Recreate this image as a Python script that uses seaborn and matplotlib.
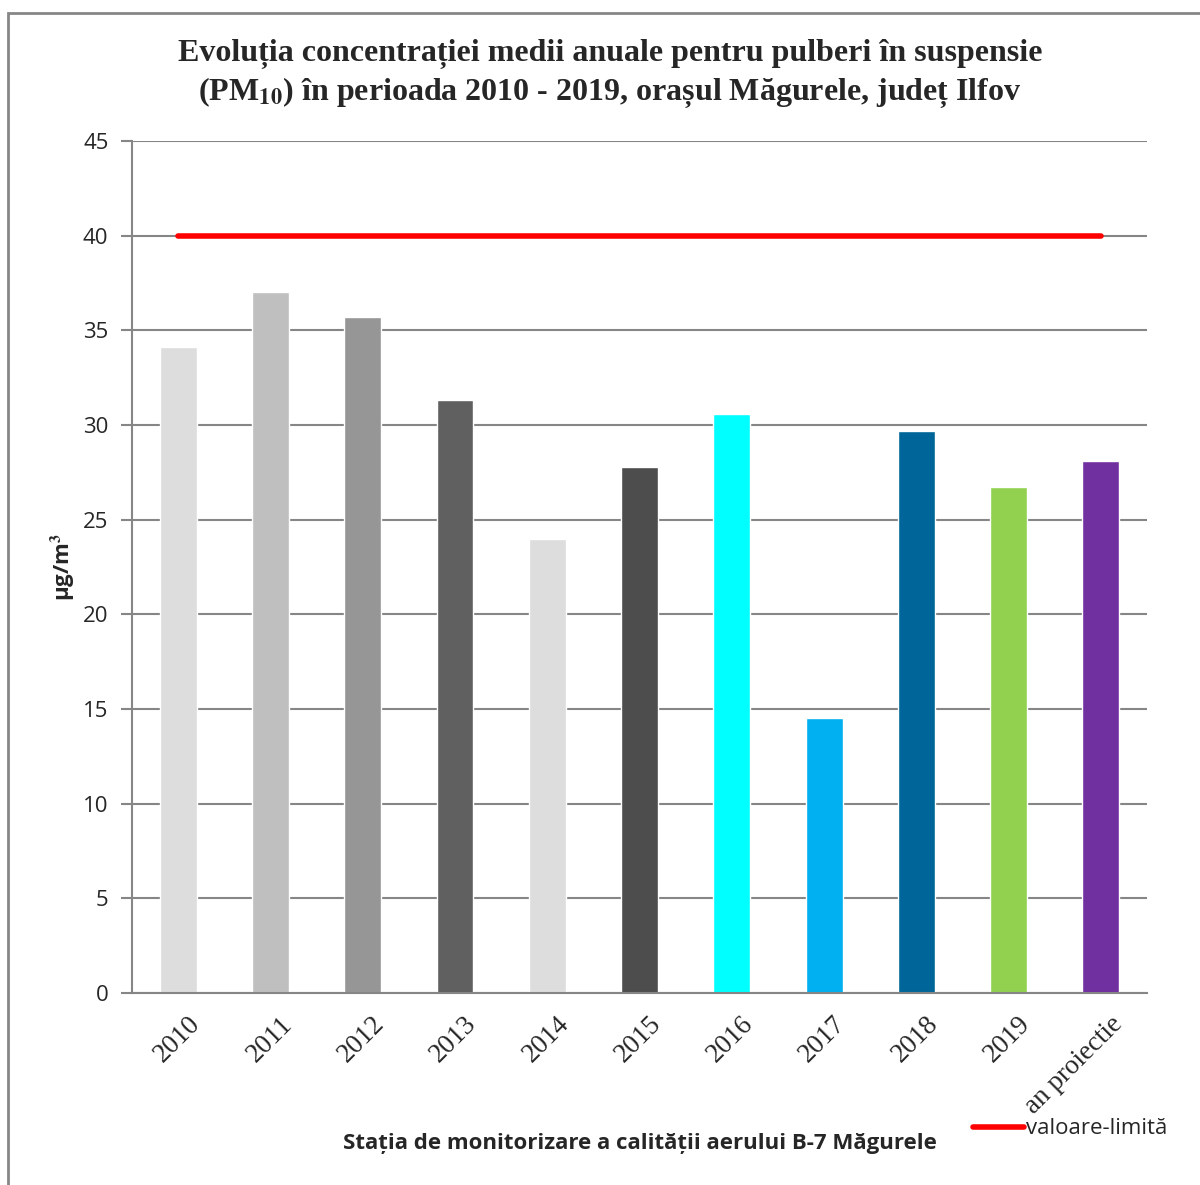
import matplotlib
matplotlib.use("Agg")
import matplotlib.pyplot as plt
import matplotlib.transforms as mtransforms
import seaborn as sns
import pandas as pd
from matplotlib.patches import Rectangle
from matplotlib.lines import Line2D

# data
categories = ['2010', '2011', '2012', '2013', '2014', '2015', '2016',
              '2017', '2018', '2019', 'an proiectie']
pm10_values = [34.1, 37.0, 35.7, 31.3, 24.0, 27.8, 30.6, 14.5, 29.7, 26.7, 28.1]
limit_values = [40] * len(categories)
bar_colors = ['#DDDDDD', '#BFBFBF', '#969696', '#606060', '#DDDDDD', '#4D4D4D',
              '#00FFFF', '#00B0F0', '#006699', '#92D050', '#7030A0']
y_ticks = [0, 5, 10, 15, 20, 25, 30, 35, 40, 45]

sns.set_style("white")
plt.rcParams['mathtext.fontset'] = 'stix'

df = pd.DataFrame({'an': categories, 'pm10': pm10_values, 'limita': limit_values})

W, H = 1200, 1185
fig = plt.figure(figsize=(W / 100, H / 100), dpi=100)
ax = fig.add_axes([132 / W, 1 - 993 / H, (1147 - 132) / W, (993 - 141) / H])

sns.barplot(data=df, x='an', y='pm10', hue='an', palette=bar_colors,
            legend=False, width=0.4, saturation=1, ax=ax)
ax.plot(df['an'], df['limita'], color='#FF0000', linewidth=4, solid_capstyle='round')

ax.set_ylim(0, 45)
ax.set_xlim(-0.5, len(categories) - 0.5)
ax.set_yticks(y_ticks)
ax.set_yticklabels([str(t) for t in y_ticks], fontsize=16, family='Open Sans')
ax.tick_params(axis='y', length=8, color='#868686', width=1.5, pad=9, left=True)
ax.tick_params(axis='x', length=0, pad=4)
ax.set_xticks(range(len(categories)))
ax.set_xticklabels(categories, rotation=45, ha='right', rotation_mode='anchor',
                   fontsize=19.5, family='Liberation Serif')
ax.grid(axis='y', color='#868686', linewidth=1.5)
ax.set_axisbelow(True)
for s in ['top', 'right']:
    ax.spines[s].set_visible(False)
for s in ['left', 'bottom']:
    ax.spines[s].set_color('#868686')
    ax.spines[s].set_linewidth(1.5)
ax.set_xlabel('')
ax.set_ylabel('μg/m$^\\mathbf{3}$', fontsize=16, fontweight='bold', family='Open Sans',
              labelpad=4)

# shift x tick labels so their top right sits just right of the bar centre
offset = mtransforms.ScaledTranslation(9 / 100, -13 / 100, fig.dpi_scale_trans)
for lbl in ax.get_xticklabels():
    lbl.set_transform(lbl.get_transform() + offset)

fig.text(0.5 + 10 / W, 1 - 54 / H,
         'Evoluția concentrației medii anuale pentru pulberi în suspensie',
         ha='center', va='center', fontsize=23, fontweight='bold', family='Liberation Serif')
fig.text(0.5 + 10 / W, 1 - 92 / H,
         '(PM$_{\\mathbf{10}}$) în perioada 2010 - 2019, orașul Măgurele, județ Ilfov',
         ha='center', va='center', fontsize=23, fontweight='bold', family='Liberation Serif')

fig.text(640 / W, 1 - 1143 / H, 'Stația de monitorizare a calității aerului B-7 Măgurele',
         ha='center', va='center', fontsize=16, fontweight='bold', family='Open Sans')

handle = Line2D([], [], color='#FF0000', linewidth=4)
fig.legend([handle], ['valoare-limită'], loc='center left',
           bbox_to_anchor=(953 / W, 1 - 1129 / H), frameon=False,
           handlelength=2.3, handletextpad=0.1,
           prop={'family': 'Open Sans', 'size': 16})

fig.patches.append(Rectangle((8 / W, -0.05), 1.1, 1 - 13 / H + 0.05,
                             transform=fig.transFigure, fill=False,
                             edgecolor='#868686', linewidth=2))

fig.savefig('out.png', dpi=100)
